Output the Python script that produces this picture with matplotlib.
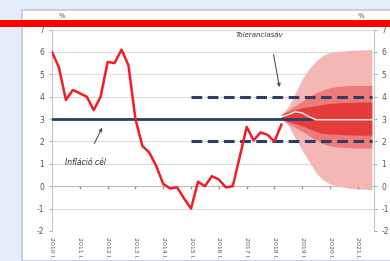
import numpy as np
import matplotlib
matplotlib.use("Agg")
import matplotlib.pyplot as plt
from matplotlib.patches import Rectangle

plt.rcParams["axes.unicode_minus"] = False

# ---- data ----
hist_start = 2010.0
inflation = [6.0, 5.3, 3.85, 4.3, 4.15, 4.0, 3.4, 4.0, 5.55, 5.5, 6.1, 5.4,
             3.0, 1.8, 1.5, 0.9, 0.1, -0.1, -0.05, -0.55, -1.0, 0.2, 0.0, 0.45,
             0.3, -0.05, 0.0, 1.3, 2.65, 2.05, 2.4, 2.3, 2.0, 2.75]
target = 3.0
target_span = [2010.0, 2019.3]
band_hi, band_lo = 4.0, 2.0
band_span = [2015.0, 2021.5]

fan_t = [2018.25, 2018.5, 2018.75, 2019.0, 2019.25, 2019.5, 2019.75, 2020.0,
         2020.25, 2020.5, 2020.75, 2021.0, 2021.25, 2021.5]
outer_hi = [3.2, 3.55, 4.15, 4.8, 5.25, 5.6, 5.85, 5.97, 6.02, 6.05, 6.07, 6.08, 6.1, 6.1]
outer_lo = [3.0, 2.7, 2.15, 1.6, 1.1, 0.6, 0.28, 0.1, 0.02, -0.05, -0.1, -0.12, -0.14, -0.15]
mid_hi = [3.2, 3.4, 3.6, 3.8, 4.0, 4.18, 4.3, 4.4, 4.46, 4.48, 4.5, 4.5, 4.5, 4.5]
mid_lo = [3.0, 2.8, 2.62, 2.45, 2.25, 2.05, 1.9, 1.8, 1.76, 1.73, 1.72, 1.7, 1.7, 1.7]
in_hi = [3.2, 3.32, 3.42, 3.5, 3.55, 3.6, 3.66, 3.7, 3.72, 3.74, 3.75, 3.76, 3.76, 3.76]
in_lo = [3.0, 2.88, 2.8, 2.7, 2.56, 2.44, 2.36, 2.33, 2.32, 2.3, 2.29, 2.28, 2.28, 2.28]
median = [3.1, 3.2, 3.33, 3.27, 3.1, 2.97, 2.97, 2.97, 2.97, 2.97, 2.97, 2.97, 2.97, 2.97]

years = list(range(2010, 2022))
year_labels = [f"{y} I." for y in years]
yticks = list(range(-2, 8))

# ---- figure ----
fig = plt.figure(figsize=(3.9, 2.61), dpi=100)
fig.patch.set_facecolor("#e4eef8")
# white panel
fig.patches.append(Rectangle((22/390, 0), 1.0, 1 - 10/261, transform=fig.transFigure,
                             facecolor="white", edgecolor="#c4c4e2", linewidth=1.2, zorder=-5))

ax = fig.add_axes([52/390, 1 - 231/261, (374 - 52)/390, (231 - 29.5)/261])
ax.set_zorder(2)
ax.set_facecolor("none")
ax.set_xlim(2010.0, 2021.58)
ax.set_ylim(-2, 7)

# grid
for yv in yticks:
    ax.axhline(yv, color="#dcdcdc", lw=0.8, zorder=1)

t_hist = hist_start + 0.25 * np.arange(len(inflation))

# fan
ax.fill_between(fan_t, outer_lo, outer_hi, color="#f5b6b6", lw=0, zorder=2)
ax.fill_between(fan_t, mid_lo, mid_hi, color="#ef7a7a", lw=0, zorder=3)
ax.fill_between(fan_t, in_lo, in_hi, color="#e63b3b", lw=0, zorder=4)

# target and tolerance band
ax.plot(target_span, [target, target], color="#2d3d66", lw=2.0, zorder=5)
ax.plot(band_span, [band_hi, band_hi], color="#2d3d66", lw=2.2, ls=(0, (3.5, 1.8)), zorder=5)
ax.plot(band_span, [band_lo, band_lo], color="#2d3d66", lw=2.2, ls=(0, (3.5, 1.8)), zorder=5)

ax.plot(fan_t, median, color="#fbe3e3", lw=1.1, zorder=6)

# history
ax.plot(t_hist, inflation, color="#f01d24", lw=1.8, zorder=7, solid_joinstyle="round")

# x axis at zero with tick marks
ax.axhline(0, color="#bdbdbd", lw=0.8, zorder=1)
ax.plot(years[1:], [0] * (len(years) - 1), ls="none", marker=3, markersize=2.5,
        color="#9a9a9a", zorder=2)

# spines
for s in ["top", "bottom"]:
    ax.spines[s].set_visible(False)
for s in ["left", "right"]:
    ax.spines[s].set_color("#c4c4c4")
    ax.spines[s].set_linewidth(0.8)

ax.set_yticks(yticks)
ax.tick_params(axis="y", which="both", direction="out", length=2.5, width=0.6,
               color="#9a9a9a", labelsize=5.5, labelcolor="#555555", pad=3,
               left=True, right=True, labelleft=True, labelright=True)
ax.set_xticks(years)
ax.set_xticklabels(year_labels, rotation=270, fontsize=4.5, color="#555555")
ax.tick_params(axis="x", length=0, pad=4)

# annotations
ax.text(2017.48, 6.74, "Toleranciasáv", fontsize=5, style="italic",
        color="#333333", ha="center", va="center")
ax.annotate("", xy=(2018.2, 4.3), xytext=(2017.95, 6.0),
            arrowprops=dict(arrowstyle="-|>", color="#555555", lw=0.8, mutation_scale=5))
ax.text(2010.45, 1.05, "Infláció cél", fontsize=5.5, style="italic", color="#333333",
        ha="left", va="center")
ax.annotate("", xy=(2011.85, 2.73), xytext=(2011.48, 1.8),
            arrowprops=dict(arrowstyle="-|>", color="#555555", lw=0.8, mutation_scale=5))

# % labels
fig.text(62/390, 1 - 16/261, "%", fontsize=5, color="#555555", ha="center", va="center")
fig.text(361/390, 1 - 16/261, "%", fontsize=5, color="#555555", ha="center", va="center")

# red bar across the top
fig.patches.append(Rectangle((0, 1 - 26.5/261), 1.0, 7/261, transform=fig.transFigure,
                             facecolor="#ff0000", edgecolor="none", zorder=10))

fig.savefig("out.png", dpi=100)
